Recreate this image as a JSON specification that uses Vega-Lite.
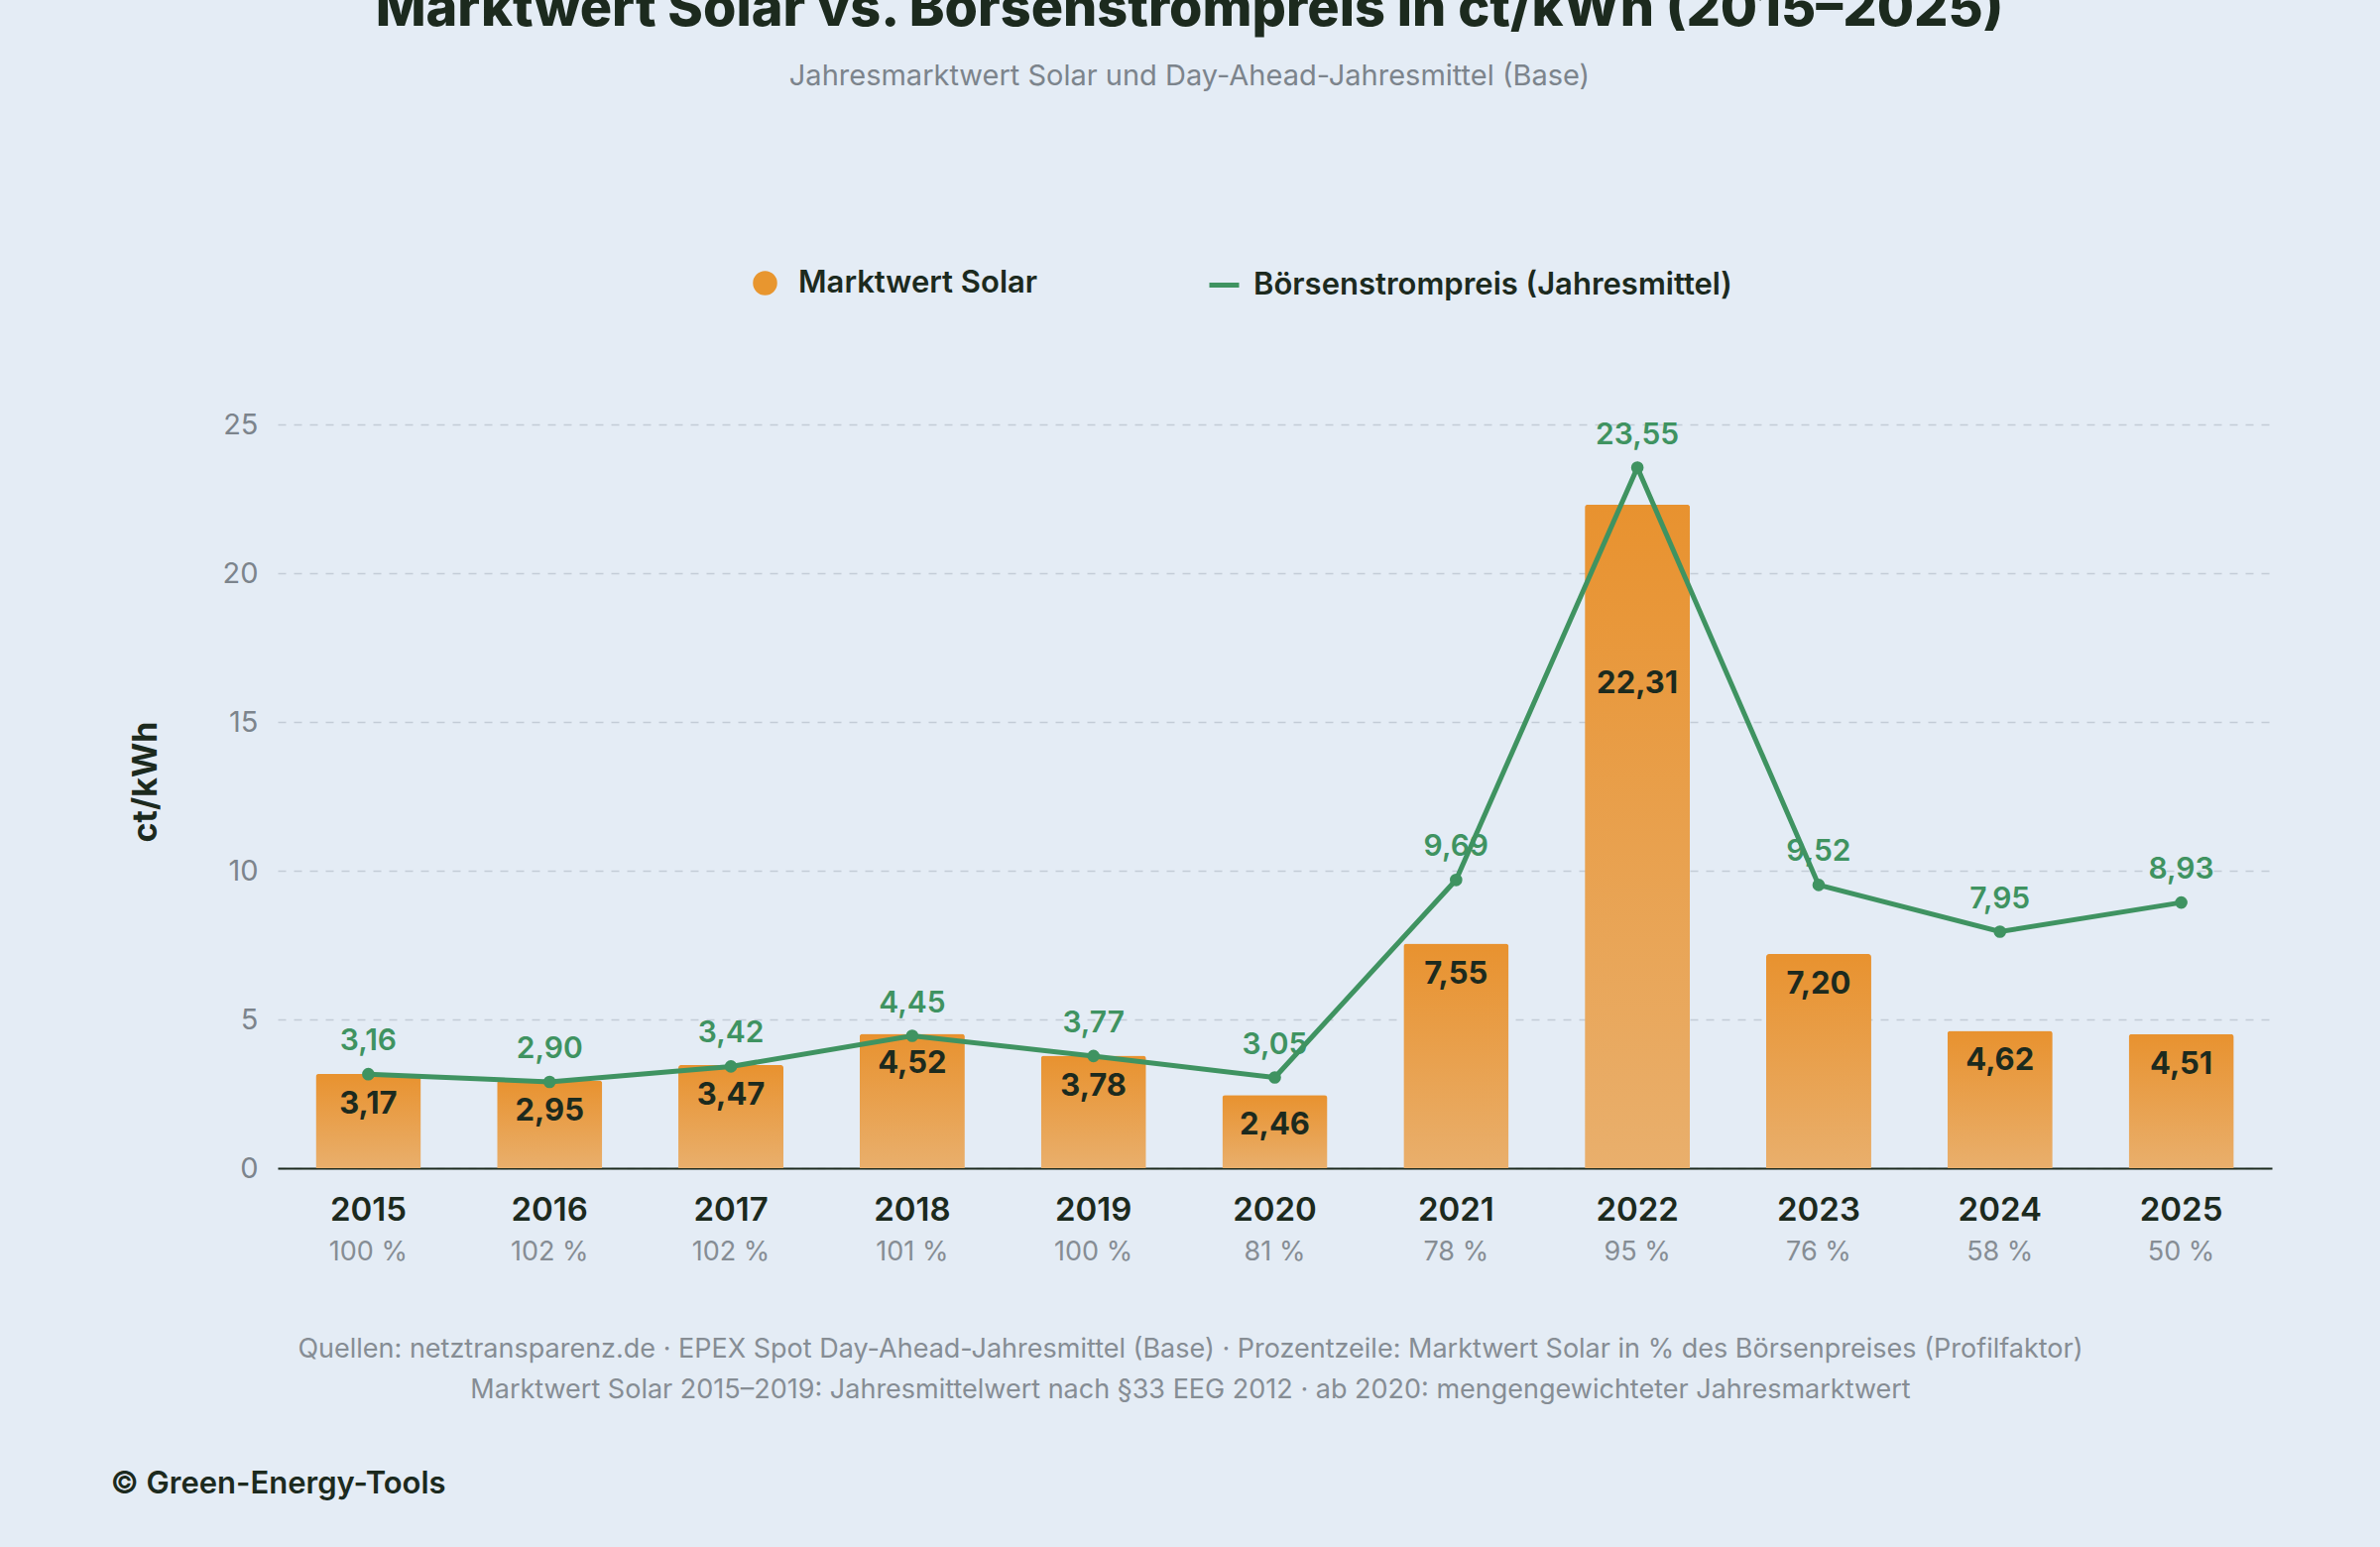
{
  "$schema": "https://vega.github.io/schema/vega-lite/v6.json",
  "autosize": "none",
  "width": 2011,
  "height": 780,
  "padding": {"left": 280, "top": 398, "right": 109, "bottom": 382},
  "background": "#E4ECF5",
  "config": {
    "font": "Inter",
    "view": {"stroke": null},
    "locale": {"number": {"decimal": ",", "thousands": ".", "grouping": [3], "currency": ["", " €"]}}
  },
  "title": {
    "text": "Marktwert Solar vs. Börsenstrompreis in ct/kWh (2015–2025)",
    "subtitle": "Jahresmarktwert Solar und Day-Ahead-Jahresmittel (Base)",
    "fontSize": 54,
    "fontWeight": 800,
    "color": "#1C2A1E",
    "subtitleFontSize": 29,
    "subtitleColor": "#7C848C",
    "subtitlePadding": 26,
    "anchor": "middle",
    "dx": -86,
    "offset": 178
  },
  "data": {
    "values": [
      {"year": "2015", "solar": 3.17, "base": 3.16, "pct": "100 %"},
      {"year": "2016", "solar": 2.95, "base": 2.90, "pct": "102 %"},
      {"year": "2017", "solar": 3.47, "base": 3.42, "pct": "102 %"},
      {"year": "2018", "solar": 4.52, "base": 4.45, "pct": "101 %"},
      {"year": "2019", "solar": 3.78, "base": 3.77, "pct": "100 %"},
      {"year": "2020", "solar": 2.46, "base": 3.05, "pct": "81 %"},
      {"year": "2021", "solar": 7.55, "base": 9.69, "pct": "78 %"},
      {"year": "2022", "solar": 22.31, "base": 23.55, "pct": "95 %"},
      {"year": "2023", "solar": 7.20, "base": 9.52, "pct": "76 %"},
      {"year": "2024", "solar": 4.62, "base": 7.95, "pct": "58 %"},
      {"year": "2025", "solar": 4.51, "base": 8.93, "pct": "50 %"}
    ]
  },
  "encoding": {
    "x": {
      "field": "year",
      "type": "nominal",
      "scale": {"paddingInner": 0.42, "paddingOuter": 0.21},
      "axis": {
        "labelAngle": 0,
        "labelFontSize": 33,
        "labelFontWeight": 600,
        "labelColor": "#1C2A1E",
        "labelPadding": 26,
        "ticks": false,
        "domainColor": "#1C2A1E",
        "domainWidth": 2,
        "title": ["Quellen: netztransparenz.de · EPEX Spot Day-Ahead-Jahresmittel (Base) · Prozentzeile: Marktwert Solar in % des Börsenpreises (Profilfaktor)", "Marktwert Solar 2015–2019: Jahresmittelwert nach §33 EEG 2012 · ab 2020: mengengewichteter Jahresmarktwert"],
        "titleFontSize": 27,
        "titleFontWeight": 400,
        "titleColor": "#868D94",
        "titleLineHeight": 41,
        "titleLimit": 2300,
        "titleX": 920,
        "titleY": 190,
        "titleBaseline": "alphabetic"
      }
    }
  },
  "layer": [
    {
      "mark": {
        "type": "bar",
        "cornerRadiusTopLeft": 3,
        "cornerRadiusTopRight": 3,
        "fill": {
          "gradient": "linear", "x1": 0, "y1": 0, "x2": 0, "y2": 1,
          "stops": [{"offset": 0, "color": "#E8922F"}, {"offset": 1, "color": "#E9AF6C"}]
        }
      },
      "encoding": {
        "y": {
          "field": "solar",
          "type": "quantitative",
          "scale": {"domain": [0, 25]},
          "axis": {
            "values": [0, 5, 10, 15, 20, 25],
            "labelFontSize": 29,
            "labelColor": "#7C848C",
            "labelPadding": 20,
            "ticks": false,
            "domain": false,
            "gridDash": [8, 8],
            "gridColor": "#C3CCD7",
            "gridWidth": 1.5,
            "title": "ct/kWh",
            "titleFontSize": 34,
            "titleFontWeight": 700,
            "titleColor": "#1C2A1E",
            "titlePadding": 60
          }
        }
      }
    },
    {
      "mark": {"type": "point", "filled": true, "opacity": 0},
      "encoding": {
        "y": {"field": "solar", "type": "quantitative"},
        "fill": {
          "datum": "Marktwert Solar",
          "scale": {"range": ["#E8962F"]},
          "legend": {
            "title": null, "orient": "none", "legendX": 476, "legendY": -128,
            "symbolType": "circle", "symbolSize": 600, "symbolOpacity": 1,
            "labelFontSize": 31, "labelFontWeight": 600, "labelColor": "#1C2A1E", "labelOffset": 18, "labelLimit": 800
          }
        }
      }
    },
    {
      "transform": [{"calculate": "datum.year == '2022' ? datum.solar - 5 : datum.solar", "as": "labelPos"}],
      "mark": {"type": "text", "fontSize": 31, "fontWeight": 700, "color": "#1C2A1E", "baseline": "top", "dy": 16},
      "encoding": {
        "y": {"field": "labelPos", "type": "quantitative"},
        "text": {"field": "solar", "type": "quantitative", "format": ".2f"}
      }
    },
    {
      "mark": {"type": "line", "strokeWidth": 5},
      "encoding": {
        "y": {"field": "base", "type": "quantitative"},
        "stroke": {
          "datum": "Börsenstrompreis (Jahresmittel)",
          "scale": {"range": ["#3F9361"]},
          "legend": {
            "title": null, "orient": "none", "legendX": 937, "legendY": -128,
            "symbolType": "stroke", "symbolSize": 900, "symbolStrokeWidth": 5,
            "labelFontSize": 31, "labelFontWeight": 600, "labelColor": "#1C2A1E", "labelOffset": 12, "labelLimit": 800
          }
        }
      }
    },
    {
      "mark": {"type": "point", "filled": true, "size": 160, "color": "#3F9361", "opacity": 1},
      "encoding": {"y": {"field": "base", "type": "quantitative"}}
    },
    {
      "mark": {"type": "text", "fontSize": 30, "fontWeight": 600, "color": "#3F9361", "baseline": "bottom", "dy": -18},
      "encoding": {
        "y": {"field": "base", "type": "quantitative"},
        "text": {"field": "base", "type": "quantitative", "format": ".2f"}
      }
    },
    {
      "mark": {"type": "text", "fontSize": 27, "color": "#868D94", "baseline": "top", "dy": 72},
      "encoding": {
        "y": {"datum": 0},
        "text": {"field": "pct"}
      }
    },
    {
      "data": {"values": [{"year": "2015", "note": "© Green-Energy-Tools"}]},
      "mark": {"type": "text", "fontSize": 31, "fontWeight": 600, "color": "#1C2A1E", "align": "left", "baseline": "middle", "dx": -260, "dy": 319},
      "encoding": {
        "x": {"field": "year", "type": "nominal"},
        "y": {"datum": 0},
        "text": {"field": "note"}
      }
    }
  ]
}
